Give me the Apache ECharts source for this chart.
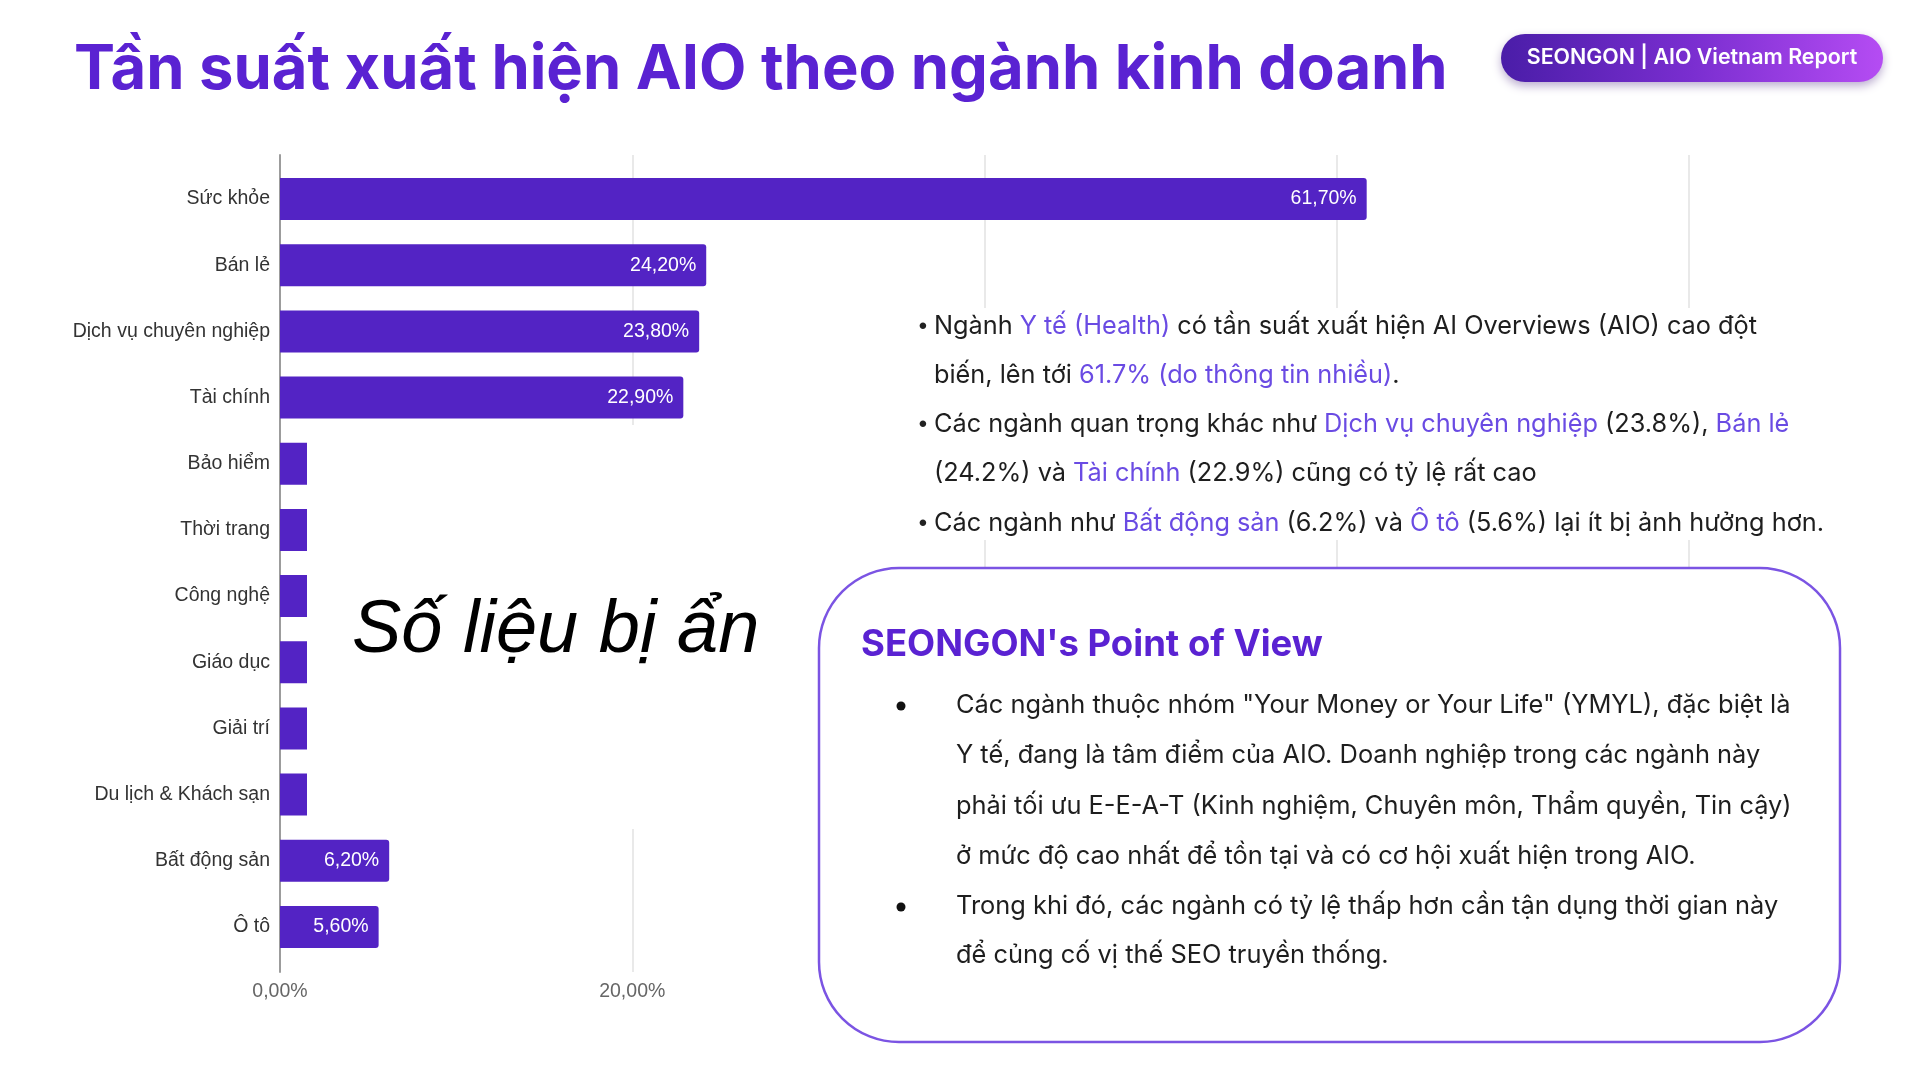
<!DOCTYPE html>
<html>
<head>
<meta charset="utf-8">
<script src="https://cdn.jsdelivr.net/npm/echarts@6/dist/echarts.min.js"></script>
<style>
html,body{margin:0;padding:0;background:#fff;}
#chart{width:1920px;height:1080px;}
</style>
</head>
<body>
<div id="chart"></div>
<script>
// ---- data ----
const categories = ['Sức khỏe','Bán lẻ','Dịch vụ chuyên nghiệp','Tài chính','Bảo hiểm','Thời trang','Công nghệ','Giáo dục','Giải trí','Du lịch & Khách sạn','Bất động sản','Ô tô'];
// values for Bảo hiểm ... Du lịch & Khách sạn are hidden in the source (covered); estimates only
const values = [61.7, 24.2, 23.8, 22.9, 18, 16, 14, 12, 10, 8, 6.2, 5.6];
const xMin = 0, xMax = 80, xStep = 20;
const titleText = 'Tần suất xuất hiện AIO theo ngành kinh doanh';
const badgeText = 'SEONGON | AIO Vietnam Report';
const hiddenNote = 'Số liệu bị ẩn';
const boxTitle = "SEONGON's Point of View";
const boxLines = [
  'Các ngành thuộc nhóm "Your Money or Your Life" (YMYL), đặc biệt là',
  'Y tế, đang là tâm điểm của AIO. Doanh nghiệp trong các ngành này',
  'phải tối ưu E-E-A-T (Kinh nghiệm, Chuyên môn, Thẩm quyền, Tin cậy)',
  'ở mức độ cao nhất để tồn tại và có cơ hội xuất hiện trong AIO.',
  'Trong khi đó, các ngành có tỷ lệ thấp hơn cần tận dụng thời gian này',
  'để củng cố vị thế SEO truyền thống.'
];
const boxBulletLines = [0, 4];
const noteLines = [
  'Ngành {h|Y tế (Health)} có tần suất xuất hiện AI Overviews (AIO) cao đột',
  'biến, lên tới {h|61.7% (do thông tin nhiều)}.',
  'Các ngành quan trọng khác như {h|Dịch vụ chuyên nghiệp} (23.8%), {h|Bán lẻ}',
  '(24.2%) và {h|Tài chính} (22.9%) cũng có tỷ lệ rất cao',
  'Các ngành như {h|Bất động sản} (6.2%) và {h|Ô tô} (5.6%) lại ít bị ảnh hưởng hơn.'
];
const noteBulletLines = [0, 2, 4];

const fmtPct = v => v.toFixed(2).replace('.', ',') + '%';
const PURPLE = '#5A22D2';
const BAR = '#5323C4';
const HL = '#6A4BE3';
const TXT_FONT = 'Inter, "Noto Sans", sans-serif';
const SHEET_FONT = '"Liberation Sans", Arial, sans-serif';

const chart = echarts.init(document.getElementById('chart'));

const graphics = [];
// white cover over hidden data
graphics.push({type:'rect', z:100, shape:{x:307, y:425, width:511, height:404}, style:{fill:'#fff'}});
graphics.push({type:'text', z:101, x:352, y:631, style:{text:hiddenNote, fontSize:74, fontStyle:'italic', fontFamily:SHEET_FONT, fill:'#000', verticalAlign:'middle'}});
// white background for note block
graphics.push({type:'rect', z:100, shape:{x:890, y:308, width:1030, height:232}, style:{fill:'#fff'}});
const noteY = [326, 375, 424, 473, 523];
noteLines.forEach((t, i) => {
  if (noteBulletLines.indexOf(i) >= 0) {
    graphics.push({type:'text', z:101, x:917, y:noteY[i], style:{text:'•', fontSize:21, fontFamily:TXT_FONT, fill:'#222', verticalAlign:'middle'}});
  }
  graphics.push({type:'text', z:101, x:934, y:noteY[i], style:{text:t, fontSize:25.3, fontFamily:TXT_FONT, fill:'#1e1e1e', verticalAlign:'middle', rich:{h:{fill:HL}}}});
});
// point of view box
graphics.push({type:'rect', z:100, shape:{x:819, y:568, width:1021, height:474, r:80}, style:{fill:'#fff', stroke:'#7B54E3', lineWidth:2.5}});
graphics.push({type:'text', z:101, x:861, y:645, style:{text:boxTitle, fontSize:36.5, fontWeight:700, fontFamily:TXT_FONT, fill:PURPLE, verticalAlign:'middle'}});
const boxY = [705, 755, 806, 856, 906, 955];
boxLines.forEach((t, i) => {
  if (boxBulletLines.indexOf(i) >= 0) {
    graphics.push({type:'circle', z:101, shape:{cx:901, cy:boxY[i]+1, r:4.5}, style:{fill:'#111'}});
  }
  graphics.push({type:'text', z:101, x:956, y:boxY[i], style:{text:t, fontSize:25.4, fontFamily:TXT_FONT, fill:'#1e1e1e', verticalAlign:'middle'}});
});
// badge
graphics.push({type:'rect', z:100, shape:{x:1501, y:34, width:382, height:48, r:24},
  style:{fill:new echarts.graphic.LinearGradient(0,0,1,0,[{offset:0,color:'#4A1DA8'},{offset:0.5,color:'#7A2ED0'},{offset:1,color:'#B54CF3'}]),
  shadowBlur:10, shadowColor:'rgba(60,20,120,0.35)', shadowOffsetY:4}});
graphics.push({type:'text', z:101, x:1692, y:58, style:{text:badgeText, fontSize:21.4, fontWeight:600, fontFamily:TXT_FONT, fill:'#fff', align:'center', verticalAlign:'middle'}});

chart.setOption({
  backgroundColor:'#fff',
  animation:false,
  title:{text:titleText, left:74, top:40, padding:0,
    textStyle:{fontSize:61.5, fontWeight:700, color:PURPLE, fontFamily:TXT_FONT}},
  grid:[
    {left:280, top:166, width:1409, height:794},
    {left:280, top:155, width:1409, height:817}
  ],
  xAxis:[
    {gridIndex:0, type:'value', min:xMin, max:xMax, interval:xStep, show:false},
    {gridIndex:1, type:'value', min:xMin, max:xMax, interval:xStep,
      axisLine:{show:false}, axisTick:{show:false},
      splitLine:{show:true, lineStyle:{color:'#e2e2e2', width:1.5}},
      axisLabel:{formatter:fmtPct, fontSize:19.5, color:'#666', margin:10, fontFamily:SHEET_FONT}}
  ],
  yAxis:[
    {gridIndex:0, type:'category', inverse:true, data:categories,
      axisLine:{show:false}, axisTick:{show:false},
      axisLabel:{fontSize:19.5, color:'#333', margin:10, fontFamily:SHEET_FONT}},
    {gridIndex:1, type:'value', min:0, max:1,
      axisLine:{show:true, lineStyle:{color:'#9c9c9c', width:2}},
      axisTick:{show:false}, axisLabel:{show:false}, splitLine:{show:false}}
  ],
  series:[{
    type:'bar', xAxisIndex:0, yAxisIndex:0, data:values, barWidth:42,
    itemStyle:{color:BAR, borderRadius:[0,3,3,0]},
    label:{show:true, position:'insideRight', distance:10, formatter:p => fmtPct(p.value),
      color:'#fff', fontSize:19.5, fontFamily:SHEET_FONT}
  }],
  graphic:graphics
});
</script>
</body>
</html>
